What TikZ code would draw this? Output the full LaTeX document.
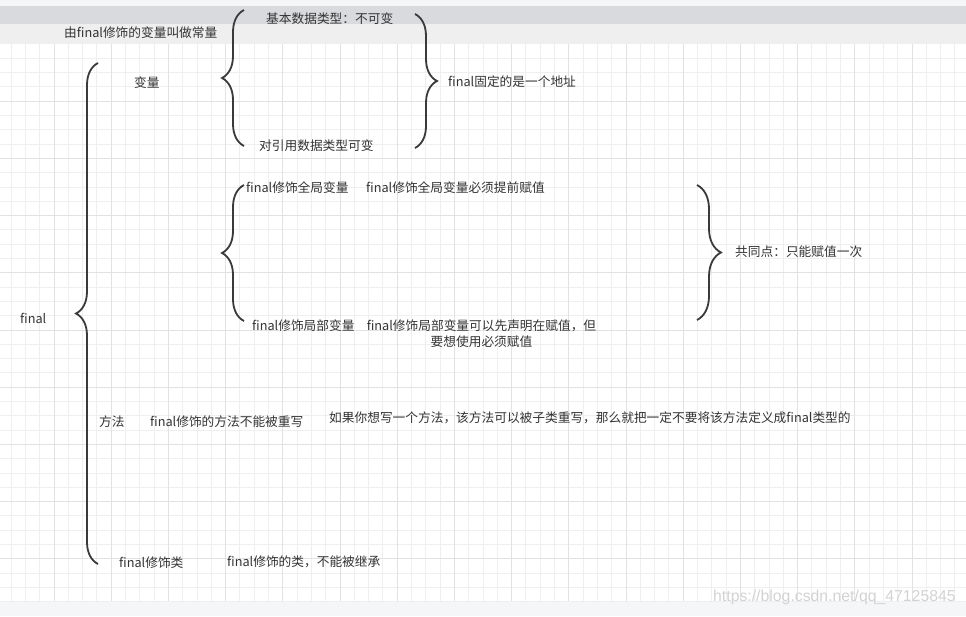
\documentclass[tikz,border=0pt]{standalone}
\usepackage{fontspec}
\usetikzlibrary{decorations.pathreplacing}
\newfontfamily\cjk{Noto Sans CJK SC}
\newfontfamily\wmfont{Liberation Sans}
\definecolor{txtgray}{HTML}{333333}
\definecolor{bracegray}{HTML}{3A3A3A}
\definecolor{minorgrid}{HTML}{EFEFEF}
\definecolor{majorgrid}{HTML}{E2E2E2}
\definecolor{barlight}{HTML}{F5F6F8}
\definecolor{bardark}{HTML}{D9DADD}
\definecolor{bandgray}{HTML}{EFEFEF}
\definecolor{wmgray}{HTML}{D3D3D3}

\begin{document}
\begin{tikzpicture}[x=1pt,y=-1pt,
    lbl/.style={font=\cjk\fontsize{12.7}{16}\selectfont, text=txtgray, inner sep=0pt, anchor=west},
    brc/.style={draw=bracegray, line width=1.8pt, decorate, decoration={brace, amplitude=#1}},
    brc/.default=22pt]
    \useasboundingbox (0,0) rectangle (966,616);
    % page background
    \fill [barlight] (0,0) rectangle (966,6);
    \fill [bardark] (0,6) rectangle (966,24);
    \fill [bandgray] (0,24) rectangle (966,44);
    \fill [white] (0,44) rectangle (966,601);
    \fill [barlight] (0,601) rectangle (966,616);
    % grid
    \foreach \k in {-3,...,63}
        \draw [minorgrid, line width=1pt] ({54+14.3*\k},44) -- ({54+14.3*\k},601);
    \foreach \k in {1,...,39}
        \draw [minorgrid, line width=1pt] (0,{44+14.3*\k}) -- (966,{44+14.3*\k});
    \foreach \k in {0,...,15}
        \draw [majorgrid, line width=1pt] ({54+57.2*\k},44) -- ({54+57.2*\k},601);
    \foreach \k in {1,...,9}
        \draw [majorgrid, line width=1pt] (0,{44+57.2*\k}) -- (966,{44+57.2*\k});

    % braces
    \draw [brc] (98,564) -- (98,63);
    \draw [brc] (244,146) -- (244,10);
    \draw [brc] (415,14) -- (415,148);
    \draw [brc] (244,321) -- (244,185);
    \draw [brc=24pt] (697,185) -- (697,320);

    % labels
    \node [lbl] (title) at (64,33) {由final修饰的变量叫做常量};
    \node [lbl] (final) at (20,318) {final};
    \node [lbl] (var) at (134,83) {变量};
    \node [lbl] (basic) at (266,19) {基本数据类型：不可变};
    \node [lbl] (ref) at (259,146) {对引用数据类型可变};
    \node [lbl] (addr) at (448,82) {final固定的是一个地址};
    \node [lbl] (globvar) at (246,188) {final修饰全局变量};
    \node [lbl] (globnote) at (366,188) {final修饰全局变量必须提前赋值};
    \node [lbl] (locvar) at (252,326) {final修饰局部变量};
    \node [lbl, anchor=center, align=center] (locnote) at (481.5,334)
        {final修饰局部变量可以先声明在赋值，但\\要想使用必须赋值};
    \node [lbl] (common) at (735,252) {共同点：只能赋值一次};
    \node [lbl] (method) at (99,422) {方法};
    \node [lbl] (methnote) at (150,422) {final修饰的方法不能被重写};
    \node [lbl] (methhint) at (329,418) {如果你想写一个方法，该方法可以被子类重写，那么就把一定不要将该方法定义成final类型的};
    \node [lbl] (cls) at (119,563) {final修饰类};
    \node [lbl] (clsnote) at (227,562) {final修饰的类，不能被继承};
    \node [anchor=west, inner sep=0pt, text=wmgray, font=\wmfont\fontsize{15.8}{18}\selectfont] (mark) at (713,597) {https://blog.csdn.net/qq\_47125845};
\end{tikzpicture}
\end{document}
